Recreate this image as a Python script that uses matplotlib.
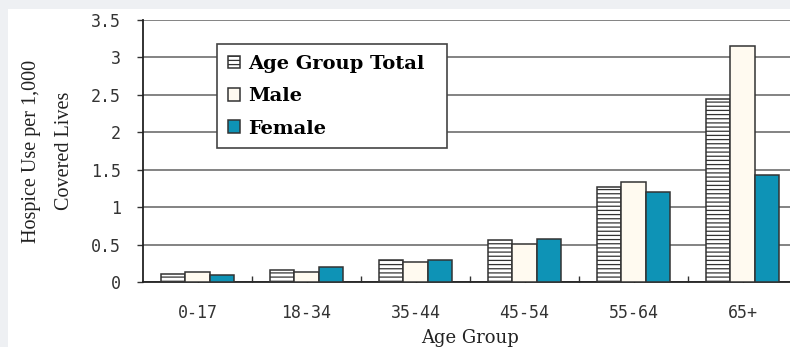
import matplotlib.pyplot as plt
import matplotlib.patches as mpatches
import numpy as np

# data
groups = ['0-17', '18-34', '35-44', '45-54', '55-64', '65+']
total = [0.11, 0.16, 0.29, 0.56, 1.27, 2.44]
male = [0.13, 0.14, 0.27, 0.51, 1.33, 3.15]
female = [0.09, 0.20, 0.30, 0.57, 1.20, 1.43]
yticks = [0, 0.5, 1, 1.5, 2, 2.5, 3, 3.5]
ytick_labels = ['0', '0.5', '1', '1.5', '2', '2.5', '3', '3.5']

plt.rcParams['hatch.linewidth'] = 0.9
plt.rcParams['hatch.color'] = '#333333'

fig = plt.figure(figsize=(7.9, 3.47), dpi=100)
fig.patch.set_facecolor('#eef0f3')
# white page with a thin gray strip at top and left
fig.patches.append(mpatches.Rectangle((8 / 790, 0), 1, 1 - 9 / 347, transform=fig.transFigure,
                                      facecolor='white', edgecolor='none', zorder=-5))

ax = fig.add_axes([143 / 790, 65 / 347, 654 / 790, 262 / 347])
ax.set_facecolor('white')

x = np.arange(len(groups))
w = 0.223
edge = '#333333'
ax.bar(x - w, total, w, color='white', edgecolor=edge, linewidth=1.1, hatch='----',
       label='Age Group Total', zorder=3)
ax.bar(x, male, w, color='#fffaf0', edgecolor=edge, linewidth=1.1, label='Male', zorder=3)
ax.bar(x + w, female, w, color='#0e93b6', edgecolor=edge, linewidth=1.1, label='Female', zorder=3)

ax.set_xlim(-0.5, 5.5)
ax.set_ylim(0, 3.5)
ax.set_yticks(yticks)
ax.set_yticklabels(ytick_labels)
ax.yaxis.grid(True, color='#7a7a7a', linewidth=1.3, zorder=0)
ax.set_axisbelow(True)

ax.set_xticks(x)
ax.set_xticklabels(groups)
ax.set_xticks(np.arange(0.5, 5.5, 1), minor=True)
ax.tick_params(axis='x', which='both', direction='in', length=4, width=1, color='#333333')
ax.tick_params(axis='x', which='major', pad=16)
ax.tick_params(axis='y', direction='out', length=4, width=1, color='#333333', pad=12)

for lab in ax.get_xticklabels() + ax.get_yticklabels():
    lab.set_fontfamily('DejaVu Sans Mono')
    lab.set_fontsize(12)
    lab.set_color('#333333')

for s in ['top', 'right']:
    ax.spines[s].set_visible(False)
for s in ['left', 'bottom']:
    ax.spines[s].set_color('#222222')
    ax.spines[s].set_linewidth(1.3)

ax.set_xlabel('Age Group', fontfamily='DejaVu Serif', fontsize=13, labelpad=5, color='#222222')
ax.set_ylabel('Hospice Use per 1,000\nCovered Lives', fontfamily='Liberation Serif', fontsize=14.5,
              linespacing=2.0, labelpad=12, color='#222222')

# legend box stretched to the reference width (217..447 px)
leg = ax.legend(loc='upper left', bbox_to_anchor=(74 / 654, 0.5, 230 / 654, 0.408), mode='expand',
                borderaxespad=0,
                prop={'family': 'DejaVu Serif', 'weight': 'bold', 'size': 14},
                fancybox=False, framealpha=1, edgecolor='#444444', handlelength=0.62,
                handleheight=0.62, handletextpad=0.45, labelspacing=0.74, borderpad=0.55)
leg.get_frame().set_linewidth(1.2)

fig.savefig('out.png', dpi=100, facecolor=fig.get_facecolor())
